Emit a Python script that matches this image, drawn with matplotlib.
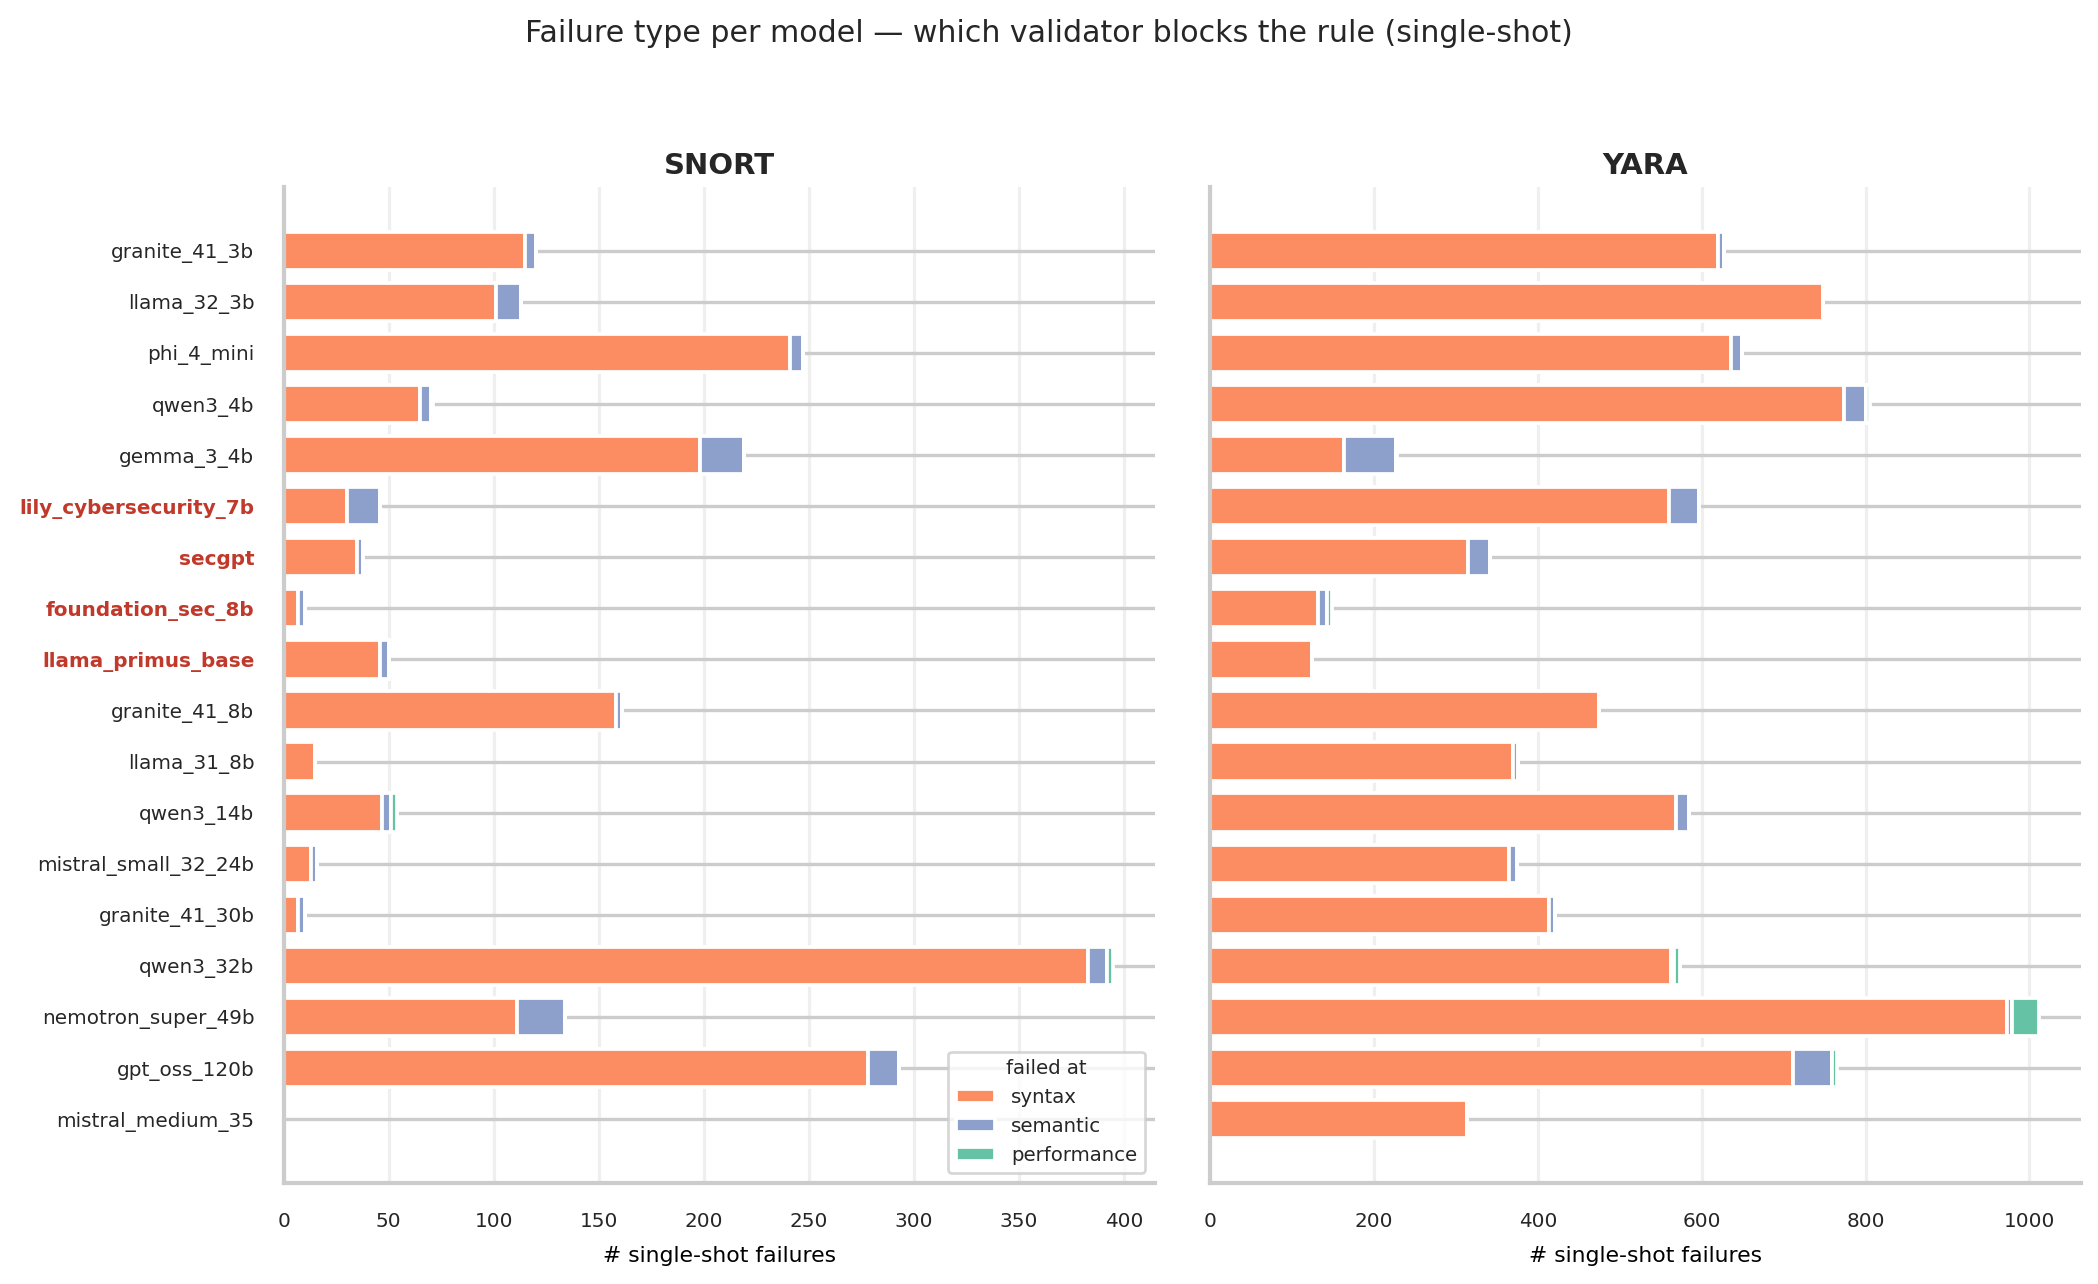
import matplotlib
matplotlib.use("Agg")
import matplotlib.pyplot as plt
import numpy as np

plt.rcParams['font.family'] = ['DejaVu Sans']
plt.rcParams['text.color'] = '#262626'

# modelli (dall'alto in basso)
models = ["granite_41_3b", "llama_32_3b", "phi_4_mini", "qwen3_4b", "gemma_3_4b",
          "lily_cybersecurity_7b", "secgpt", "foundation_sec_8b", "llama_primus_base",
          "granite_41_8b", "llama_31_8b", "qwen3_14b", "mistral_small_32_24b",
          "granite_41_30b", "qwen3_32b", "nemotron_super_49b", "gpt_oss_120b",
          "mistral_medium_35"]
# modelli specializzati in security -> etichetta rossa
highlight = ["lily_cybersecurity_7b", "secgpt", "foundation_sec_8b", "llama_primus_base"]

# SNORT
snort_syntax = [115, 101, 241, 65, 198, 30, 35, 7, 46, 158, 15, 47, 13, 7, 383, 111, 278, 0]
snort_semantic = [5, 12, 6, 5, 21, 16, 3, 3, 4, 3, 0, 4, 3, 3, 9, 23, 15, 0]
snort_performance = [0, 0, 0, 1, 0, 0, 0, 0, 0, 0, 0, 3, 0, 0, 3, 0, 0, 0]

# YARA
yara_syntax = [620, 748, 636, 774, 163, 560, 315, 132, 124, 474, 370, 569, 365, 414, 563, 973, 712, 314]
yara_semantic = [7, 0, 13, 26, 64, 37, 26, 10, 0, 0, 6, 16, 10, 7, 3, 6, 47, 0]
yara_performance = [0, 0, 0, 6, 1, 0, 0, 7, 0, 0, 0, 0, 0, 0, 7, 33, 6, 0]

stages = ["syntax", "semantic", "performance"]
colors = ["#fc8d62", "#8da0cb", "#66c2a5"]

fig = plt.figure(figsize=(2098 / 150, 1284 / 150), dpi=150)
ax1 = fig.add_axes([0.1352, 0.0787, 0.4153, 0.7757])
ax2 = fig.add_axes([0.5769, 0.0787, 0.4148, 0.7757])

panels = [
    (ax1, "SNORT", [snort_syntax, snort_semantic, snort_performance]),
    (ax2, "YARA", [yara_syntax, yara_semantic, yara_performance]),
]

n = len(models)
y = np.arange(n)

for ax, name, series in panels:
    totals = np.sum(np.array(series), axis=0)
    xmax = totals.max() * 1.05
    # linea grigia di sfondo
    ax.hlines(y, 0, xmax, color="#cccccc", lw=1.6, zorder=1)
    left = np.zeros(n)
    for vals, col, lab in zip(series, colors, stages):
        ax.barh(y, vals, left=left, height=0.75, color=col, edgecolor="white",
                linewidth=1.8, label=lab, zorder=2)
        left = left + np.array(vals)
    ax.set_xlim(0, xmax)
    ax.set_ylim(n - 1 + 1.25, -1.25)
    ax.set_axisbelow(True)
    ax.grid(axis="x", color="#efefef", lw=1.5)
    ax.grid(axis="y", visible=False)
    for s in ["top", "right"]:
        ax.spines[s].set_visible(False)
    for s in ["left", "bottom"]:
        ax.spines[s].set_color("#cccccc")
        ax.spines[s].set_linewidth(2)
    ax.tick_params(length=0, pad=14, labelsize=9.6, colors="#262626")
    ax.set_title(name, fontsize=14, fontweight="bold", pad=6)
    ax.set_xlabel("# single-shot failures", fontsize=10.5, labelpad=7)
    ax.set_yticks(y)

ax1.set_yticklabels(models)
for lbl in ax1.get_yticklabels():
    if lbl.get_text() in highlight:
        lbl.set_color("#c0392b")
        lbl.set_fontweight("bold")
ax2.set_yticklabels([])

leg = ax1.legend(loc="lower right", title="failed at", fontsize=9.5, title_fontsize=9.5)
leg.get_frame().set_edgecolor("#cccccc")
leg.get_frame().set_linewidth(1.3)

fig.suptitle("Failure type per model — which validator blocks the rule (single-shot)",
             fontsize=14.4, y=0.974, va="center")

fig.savefig("out.png", dpi=150)
